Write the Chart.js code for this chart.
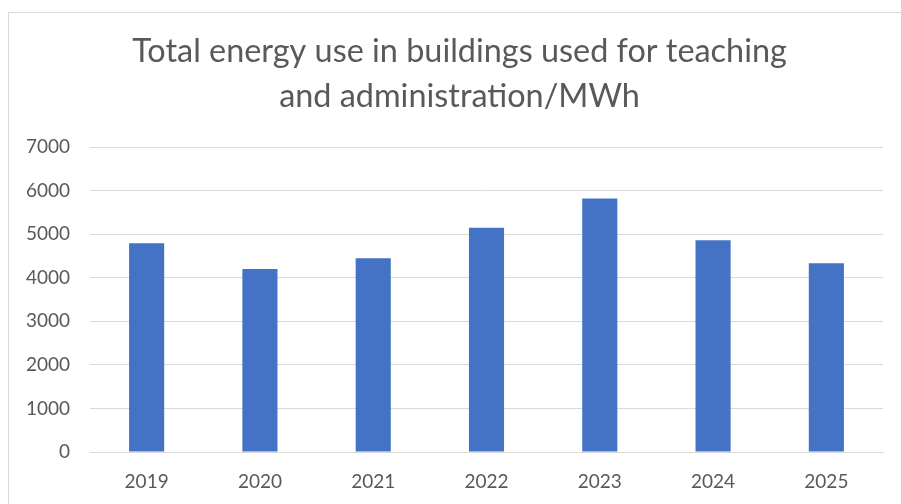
<!DOCTYPE html>
<html>
<head>
<meta charset="utf-8">
<script src="https://cdn.jsdelivr.net/npm/chart.js@4/dist/chart.umd.min.js"></script>
<style>
html,body{margin:0;padding:0;background:#fff;}
#wrap{width:901px;height:504px;position:relative;}
</style>
</head>
<body>
<div id="wrap"><canvas id="c" width="901" height="504"></canvas></div>
<script>
const categories = ["2019","2020","2021","2022","2023","2024","2025"];
const energyMWh = [4790, 4200, 4450, 5150, 5820, 4860, 4335];
const titleLines = ["Total energy use in buildings used for teaching", "and administration/MWh"];
const yMin = 0, yMax = 7000, yStep = 1000;

const frame = {
  id: 'frame',
  beforeDraw(chart) {
    const ctx = chart.ctx;
    ctx.save();
    ctx.fillStyle = '#ffffff';
    ctx.fillRect(0, 0, chart.width, chart.height);
    ctx.strokeStyle = '#d9d9d9';
    ctx.lineWidth = 1;
    ctx.strokeRect(8.5, 12.5, chart.width + 20, chart.height + 20);
    ctx.restore();
  },
  afterLayout(chart) {
    if (chart.titleBlock) { chart.titleBlock.left = 36; }
  }
};

new Chart(document.getElementById('c'), {
  type: 'bar',
  data: {
    labels: categories,
    datasets: [{
      data: energyMWh,
      backgroundColor: '#4472C4',
      borderWidth: 0,
      barPercentage: 0.31,
      categoryPercentage: 1.0
    }]
  },
  options: {
    responsive: false,
    animation: false,
    layout: { padding: { left: 0, right: 18, top: 0, bottom: 0 } },
    plugins: {
      legend: { display: false },
      tooltip: { enabled: false },
      title: {
        display: true,
        text: titleLines,
        color: '#595959',
        font: { family: 'Lato', size: 32.4, weight: 'normal', lineHeight: 1.39 },
        padding: { top: 29, bottom: 28 }
      }
    },
    scales: {
      x: {
        grid: { display: false, drawTicks: false },
        border: { display: true, color: '#d9d9d9', width: 1 },
        ticks: { color: '#595959', font: { family: 'Lato', size: 19 }, padding: 18, maxRotation: 0 },
        afterFit(scale) { scale.height = 52; }
      },
      y: {
        min: yMin, max: yMax,
        grid: { color: '#d9d9d9', drawTicks: false },
        border: { display: false },
        ticks: {
          stepSize: yStep, color: '#595959', font: { family: 'Lato', size: 19 }, padding: 20,
          callback: (v) => String(v)
        },
        afterFit(scale) { scale.width = 90; }
      }
    }
  },
  plugins: [frame]
});
</script>
</body>
</html>
